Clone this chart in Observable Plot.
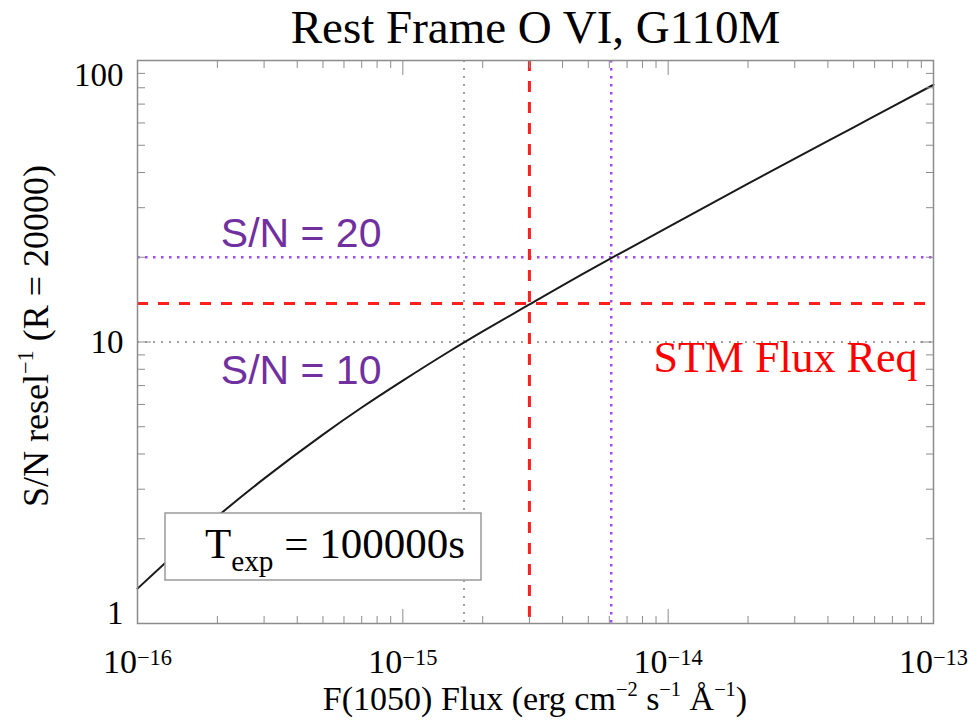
<!DOCTYPE html>
<html>
<head>
<meta charset="utf-8">
<script src="https://cdn.jsdelivr.net/npm/d3@7"></script>
<script src="https://cdn.jsdelivr.net/npm/@observablehq/plot@0.6"></script>
<style>
  body { margin: 0; background: #fff; }
  #chart { width: 970px; height: 720px; }
</style>
</head>
<body>
<div id="chart"></div>
<script>
// ---- data ----
const fluxValues = [1e-16, 2e-16, 3e-16, 5e-16, 7e-16, 1e-15, 1.5e-15, 2e-15, 3e-15, 5e-15, 7e-15, 1e-14, 2e-14, 3e-14, 5e-14, 7e-14, 1e-13];
const snValues   = [1.33, 2.40, 3.27, 4.69, 5.85, 7.29, 9.27, 10.9, 13.6, 17.9, 21.3, 25.6, 36.5, 44.8, 57.9, 68.6, 82];

const snTargets   = [10, 20];            // S/N = 10, S/N = 20
const fluxTargets = [1.7e-15, 6.1e-15];  // flux where the curve reaches them
const reqSN   = 13.7;                    // STM requirement
const reqFlux = 3.0e-15;

const xMajorTicks = [1e-16, 1e-15, 1e-14, 1e-13];
const yMajorTicks = [1, 10, 100];
const xMinorTicks = [-16, -15, -14].flatMap(e => [2,3,4,5,6,7,8,9].map(k => k * Math.pow(10, e)));
const yMinorTicks = [0, 1].flatMap(e => [2,3,4,5,6,7,8,9].map(k => k * Math.pow(10, e)));

const titleText = "Rest Frame O VI, G110M";
const legendText = "100000s";

const curve = fluxValues.map((f, i) => ({flux: f, sn: snValues[i]}));

const SERIF = "'Liberation Serif', 'Times New Roman', serif";
const SANS = "'Liberation Sans', Arial, sans-serif";
const AX = "#8c8c8c";
const GRAY = "#a0a0a0";
const PURPLE_LINE = "#a347ff";
const PURPLE_TEXT = "#7030a0";
const RED = "#ff1f1f";

const tickAxes = [
  Plot.axisX(xMajorTicks, {anchor: "bottom", tickSize: -14, fill: "none", stroke: AX, label: null}),
  Plot.axisX(xMinorTicks, {anchor: "bottom", tickSize: -7, fill: "none", stroke: AX, label: null}),
  Plot.axisX(xMajorTicks, {anchor: "top", tickSize: -14, fill: "none", stroke: AX, label: null}),
  Plot.axisX(xMinorTicks, {anchor: "top", tickSize: -7, fill: "none", stroke: AX, label: null}),
  Plot.axisY(yMajorTicks, {anchor: "left", tickSize: -14, fill: "none", stroke: AX, label: null}),
  Plot.axisY(yMinorTicks, {anchor: "left", tickSize: -8, fill: "none", stroke: AX, label: null}),
  Plot.axisY(yMajorTicks, {anchor: "right", tickSize: -14, fill: "none", stroke: AX, label: null}),
  Plot.axisY(yMinorTicks, {anchor: "right", tickSize: -8, fill: "none", stroke: AX, label: null})
];

const yLabelStyle = {frameAnchor: "left", textAnchor: "end", dx: -14, fontSize: 33, fontFamily: SERIF, fill: "#000"};

const chart = Plot.plot({
  width: 970,
  height: 720,
  marginLeft: 137,
  marginRight: 37,
  marginTop: 60,
  marginBottom: 97,
  style: {background: "#fff", overflow: "visible"},
  x: {type: "log", domain: [1e-16, 1e-13], axis: null},
  y: {type: "log", domain: [1, 100], axis: null},
  marks: [
    // reference lines
    Plot.ruleY([snTargets[0]], {stroke: GRAY, strokeWidth: 2, strokeDasharray: "2,6"}),
    Plot.ruleX([fluxTargets[0]], {stroke: GRAY, strokeWidth: 2, strokeDasharray: "2,6"}),
    Plot.ruleY([snTargets[1]], {stroke: PURPLE_LINE, strokeWidth: 2.5, strokeDasharray: "2.5,5.5"}),
    Plot.ruleX([fluxTargets[1]], {stroke: PURPLE_LINE, strokeWidth: 2.5, strokeDasharray: "2.5,5.5"}),
    Plot.ruleY([reqSN], {stroke: RED, strokeWidth: 3, strokeDasharray: "11,10"}),
    Plot.ruleX([reqFlux], {stroke: RED, strokeWidth: 3, strokeDasharray: "11,10"}),
    // S/N curve
    Plot.line(curve, {x: "flux", y: "sn", stroke: "#1a1a1a", strokeWidth: 2, curve: "monotone-x"}),
    Plot.frame({stroke: AX, strokeWidth: 1.5}),
    ...tickAxes,
    // tick labels
    Plot.axisX(xMajorTicks, {anchor: "bottom", tickSize: 0, tickPadding: 25, fontSize: 34, fontFamily: SERIF, fill: "#000",
      tickFormat: d => "10^" + Math.round(Math.log10(d)), label: null}),
    Plot.text([yMajorTicks[2]], {...yLabelStyle, y: d => d, lineAnchor: "top", dy: 2, text: d => String(d)}),
    Plot.text([yMajorTicks[1]], {...yLabelStyle, y: d => d, lineAnchor: "middle", text: d => String(d)}),
    Plot.text([yMajorTicks[0]], {...yLabelStyle, y: d => d, lineAnchor: "bottom", text: d => String(d)}),
    // annotations
    Plot.text([snTargets[1]], {x: 2.06e-16, y: d => d, text: d => `S/N = ${d}`, textAnchor: "start", lineAnchor: "middle",
      dy: -23, fontSize: 41, fontFamily: SANS, fill: PURPLE_TEXT}),
    Plot.text([snTargets[0]], {x: 2.06e-16, y: d => d, text: d => `S/N = ${d}`, textAnchor: "start", lineAnchor: "middle",
      dy: 29, fontSize: 41, fontFamily: SANS, fill: PURPLE_TEXT}),
    Plot.text([snTargets[0]], {y: d => d, frameAnchor: "right", text: () => "STM Flux Req", textAnchor: "end", lineAnchor: "middle",
      dx: -16, dy: 16, fontSize: 44, fontFamily: SERIF, fill: "#ff0000"}),
    // title
    Plot.text([titleText], {frameAnchor: "top", text: d => d, lineAnchor: "middle", dy: -33, fontSize: 47, fontFamily: SERIF, fill: "#000"})
  ]
});

document.getElementById("chart").appendChild(chart);
const svg = d3.select(chart);

// superscript exponents in x tick labels
svg.selectAll('g[aria-label="x-axis tick label"] text').each(function () {
  const t = d3.select(this);
  const [base, exp] = t.text().split("^");
  t.attr("font-family", SERIF);
  t.text(null);
  t.append("tspan").text(base);
  t.append("tspan").attr("dy", "-0.36em").attr("font-size", "0.66em").text(exp.replace("-", "\u2212"));
});

// helper: text with super/subscripts
function richText(parent, parts, attrs, supScale = 0.66) {
  const t = parent.append("text");
  Object.entries(attrs).forEach(([k, v]) => t.attr(k, v));
  let shift = 0; // in em of the parent font
  parts.forEach(p => {
    const s = t.append("tspan").text(p.t);
    const want = p.sup ? -0.42 : p.sub ? 0.3 : 0;
    if (p.sup || p.sub) {
      s.attr("font-size", supScale + "em");
      if (want !== shift) s.attr("dy", ((want - shift) / supScale).toFixed(3) + "em");
    } else if (want !== shift) {
      s.attr("dy", (want - shift).toFixed(3) + "em");
    }
    shift = want;
  });
  return t;
}

// x axis title
richText(svg, [
  {t: "F(1050) Flux (erg cm"}, {t: "\u22122", sup: true}, {t: " s"}, {t: "\u22121", sup: true},
  {t: " \u00C5"}, {t: "\u22121", sup: true}, {t: ")"}
], {x: 535, y: 710, "text-anchor": "middle", "font-family": SERIF, "font-size": 34, fill: "#000"}, 0.6);

// y axis title
richText(svg, [
  {t: "S/N resel"}, {t: "\u22121", sup: true}, {t: " (R = 20000)"}
], {transform: "translate(48,336) rotate(-90)", "text-anchor": "middle", "font-family": SERIF, "font-size": 36, fill: "#000"}, 0.62);

// legend box
const lg = svg.append("g");
lg.append("rect").attr("x", 165).attr("y", 513).attr("width", 316).attr("height", 67)
  .attr("fill", "#fff").attr("stroke", "#9a9a9a").attr("stroke-width", 1.5);
richText(lg, [{t: "T"}, {t: "exp", sub: true}, {t: " = " + legendText}],
  {x: 205, y: 558, "text-anchor": "start", "font-family": SERIF, "font-size": 43, fill: "#000"}, 0.68);
</script>
</body>
</html>
